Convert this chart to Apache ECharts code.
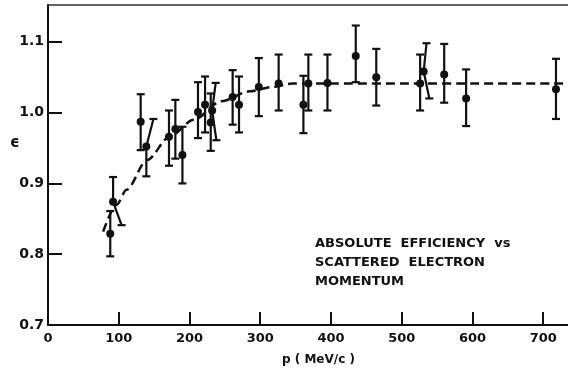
<!DOCTYPE html>
<html>
<head>
<meta charset="utf-8">
<script src="https://cdn.jsdelivr.net/npm/echarts@6/dist/echarts.min.js"></script>
<style>
  html, body { margin: 0; padding: 0; background: #fff; }
  #chart { width: 568px; height: 373px; }
</style>
</head>
<body>
<div id="chart"></div>
<script>
// measured points: momentum (MeV/c), efficiency, error bar ends
const momentum = [88, 92, 131, 139, 171, 180, 190, 212, 222, 230, 232, 261, 270, 298, 326, 361, 368, 395, 435, 464, 526, 531, 560, 591, 718];
const efficiency = [0.829, 0.874, 0.987, 0.952, 0.966, 0.977, 0.940, 1.001, 1.011, 0.986, 1.003, 1.022, 1.011, 1.036, 1.041, 1.011, 1.041, 1.042, 1.080, 1.050, 1.041, 1.058, 1.054, 1.020, 1.033];
const errLow = [0.797, 0.841, 0.947, 0.910, 0.925, 0.935, 0.900, 0.964, 0.972, 0.946, 0.961, 0.983, 0.972, 0.995, 1.003, 0.971, 1.003, 1.003, 1.043, 1.010, 1.003, 1.020, 1.014, 0.981, 0.991];
const errHigh = [0.861, 0.909, 1.026, 0.991, 1.003, 1.018, 0.980, 1.043, 1.051, 1.027, 1.042, 1.060, 1.051, 1.077, 1.082, 1.052, 1.082, 1.082, 1.123, 1.090, 1.082, 1.098, 1.097, 1.061, 1.076];
// some bars in the original are drawn tilted: x of the low / high cap
const errLowX = [88, 104, 131, 139, 171, 180, 190, 212, 222, 230, 238, 261, 270, 298, 326, 361, 368, 395, 435, 464, 526, 539, 560, 591, 718];
const errHighX = [88, 92, 131, 149, 171, 180, 190, 212, 222, 230, 237, 261, 270, 298, 326, 361, 368, 395, 435, 464, 526, 535, 560, 591, 718];

// dashed fit curve
const curveX = [78, 97, 111, 140, 172, 206, 245, 285, 316, 345, 400, 740];
const curveY = [0.832, 0.870, 0.891, 0.933, 0.966, 0.990, 1.016, 1.030, 1.036, 1.041, 1.041, 1.041];

const xTicks = [0, 100, 200, 300, 400, 500, 600, 700];
const yTicks = [0.7, 0.8, 0.9, 1.0, 1.1];

const note = ["ABSOLUTE  EFFICIENCY  vs", "SCATTERED  ELECTRON", "MOMENTUM"];

const ink = "#111";
const font = "DejaVu Sans";

const chart = echarts.init(document.getElementById("chart"));

const errData = momentum.map((x, i) => [x, efficiency[i], errLow[i], errHigh[i], errLowX[i], errHighX[i]]);

chart.setOption({
  animation: false,
  backgroundColor: "#fff",
  grid: { left: 48, right: 0, top: 5, bottom: 48 },
  xAxis: [
    {
      type: "value",
      min: 0,
      max: 735,
      interval: 100,
      axisLine: { show: true, lineStyle: { color: ink, width: 2 } },
      axisTick: { show: true, inside: true, length: 13, lineStyle: { color: ink, width: 2 } },
      axisLabel: {
        color: ink, fontFamily: font, fontWeight: "bold", fontSize: 13, margin: 7,
        showMaxLabel: false,
        formatter: (v) => (xTicks.includes(v) ? String(v) : ""),
      },
      splitLine: { show: false },
    },
    {
      type: "value",
      position: "top",
      min: 0,
      max: 735,
      axisLine: { show: true, lineStyle: { color: "#333", width: 1.5 } },
      axisTick: { show: false },
      axisLabel: { show: false },
      splitLine: { show: false },
    },
  ],
  yAxis: {
    type: "value",
    min: 0.7,
    max: 1.152,
    interval: 0.1,
    axisLine: { show: true, lineStyle: { color: ink, width: 2 } },
    axisTick: { show: true, inside: true, length: 14, lineStyle: { color: ink, width: 2 } },
    axisLabel: {
      color: ink, fontFamily: font, fontWeight: "bold", fontSize: 14, margin: 4,
      showMaxLabel: false,
      formatter: (v) => (yTicks.some((t) => Math.abs(t - v) < 1e-6) ? v.toFixed(1) : ""),
    },
    splitLine: { show: false },
  },
  series: [
    {
      name: "fit",
      type: "line",
      data: curveX.map((x, i) => [x, curveY[i]]),
      smooth: 0.3,
      smoothMonotone: "x",
      showSymbol: false,
      lineStyle: { color: ink, width: 2.5, type: [9, 5] },
      z: 2,
    },
    {
      name: "errors",
      type: "custom",
      data: errData,
      z: 3,
      renderItem: (params, api) => {
        const p = api.coord([api.value(0), api.value(1)]);
        const lo = api.coord([api.value(4), api.value(2)]);
        const hi = api.coord([api.value(5), api.value(3)]);
        const s = { stroke: ink, lineWidth: 2.2 };
        const cap = 4;
        return {
          type: "group",
          children: [
            { type: "line", shape: { x1: lo[0], y1: lo[1], x2: p[0], y2: p[1] }, style: s },
            { type: "line", shape: { x1: p[0], y1: p[1], x2: hi[0], y2: hi[1] }, style: s },
            { type: "line", shape: { x1: lo[0] - cap, y1: lo[1], x2: lo[0] + cap, y2: lo[1] }, style: s },
            { type: "line", shape: { x1: hi[0] - cap, y1: hi[1], x2: hi[0] + cap, y2: hi[1] }, style: s },
          ],
        };
      },
    },
    {
      name: "data",
      type: "scatter",
      data: momentum.map((x, i) => [x, efficiency[i]]),
      symbol: "circle",
      symbolSize: 8,
      itemStyle: { color: ink, opacity: 1 },
      z: 4,
    },
  ],
  graphic: [
    {
      type: "text",
      left: 10,
      top: 136,
      style: { text: "\u03f5", fill: ink, font: "bold 15px " + font },
    },
    {
      type: "text",
      left: 282,
      top: 354,
      style: { text: "p ( MeV/c )", fill: ink, font: "bold 12px " + font },
    },
    {
      type: "text",
      left: 315,
      top: 234,
      style: { text: note.join("\n"), fill: ink, font: "bold 13px " + font, lineHeight: 19 },
    },
  ],
});
</script>
</body>
</html>
